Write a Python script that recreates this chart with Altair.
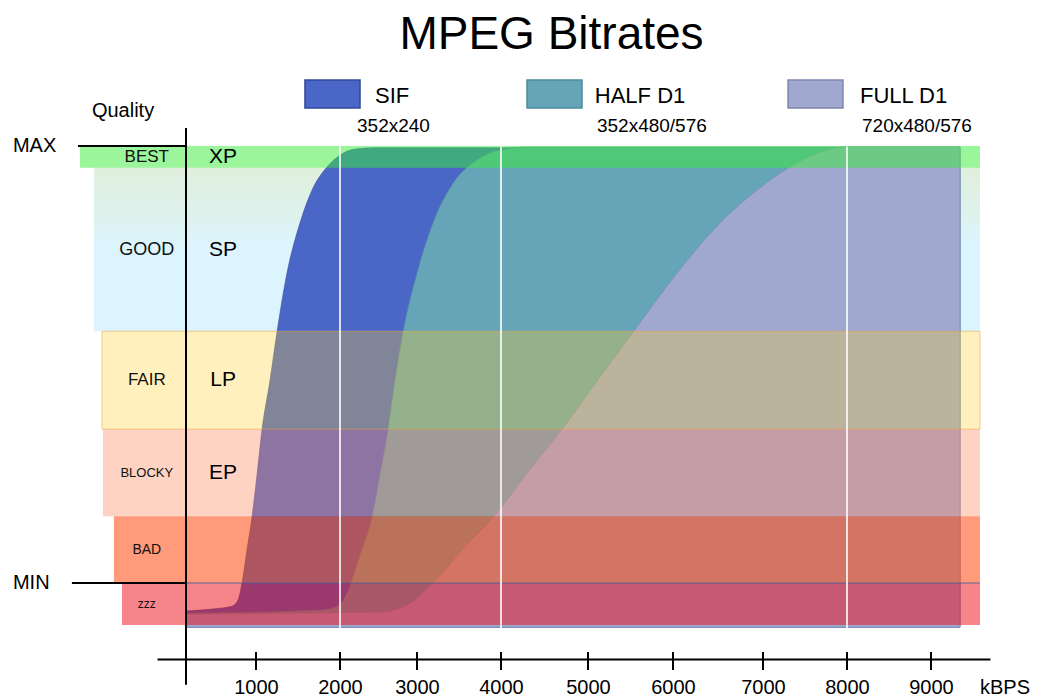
import altair as alt
import pandas as pd

# ---------------- data ----------------
formats = ["SIF", "HALF D1", "FULL D1"]
resolutions = ["352x240", "352x480/576", "720x480/576"]

sif_kbps = [0, 414, 657, 743, 800, 871, 943, 1012, 1071, 1167, 1250, 1369, 1524, 1667, 1845, 2000, 2195, 2455, 9344]
sif_quality = [-6.4, -5.9, -5.3, -3.9, 0.0, 7.6, 15.1, 24.7, 35.0, 46.4, 57.4, 70.9, 82.4, 89.9, 95.2, 97.9, 99.3, 99.6, 99.6]

half_kbps = [0, 1762, 1940, 2013, 2091, 2260, 2416, 2519, 2623, 2714, 2818, 3000, 3190, 3429, 3714, 3988, 4333, 9344]
half_quality = [-6.9, -6.2, -5.5, -4.6, -2.3, 6.4, 15.1, 24.7, 35.0, 46.4, 57.4, 70.9, 82.4, 91.5, 96.8, 99.1, 99.8, 99.8]

full_kbps = [0, 2519, 2753, 2909, 3036, 3190, 3536, 3908, 4310, 4713, 5115, 5529, 6044, 6522, 6933, 7321, 7679, 7976, 9344]
full_quality = [-7.1, -6.6, -5.9, -4.6, -2.7, 0.0, 7.6, 15.1, 25.4, 35.5, 46.4, 57.4, 70.9, 82.4, 89.9, 95.2, 98.6, 99.8, 99.8]

area_floor = -10.1

quality_bands = ["BEST", "GOOD", "FAIR", "BLOCKY", "BAD", "zzz"]
band_top = [100.0, 95.0, 57.6, 35.2, 15.3, 0.0]
band_bottom = [95.0, 57.6, 35.2, 15.3, 0.0, -9.6]
recording_modes = ["XP", "SP", "LP", "EP"]

quality_limits = ["MAX", "MIN"]
quality_limit_values = [100.0, 0.0]

x_ticks = [1000, 2000, 3000, 4000, 5000, 6000, 7000, 8000, 9000]
marker_kbps = [2000, 4000, 8000]

# ---------------- layout / style ----------------
FONT = "Liberation Sans"
x_domain = [-414, 0, 1000, 2000, 3000, 4000, 5000, 6000, 7000, 8000, 9000, 9700]
x_range = [0, 29, 99, 183, 260, 344, 431, 516, 606, 690, 774, 833]
y_domain = [-17.39, 104.12]

area_colors = ["#4a67c8", "#66a5b8", "#a0a8d0"]
area_edges = ["#34489a", "#4f8a9c", "#7f86b0"]

band_left = [-1514, -1314, -1200, -1186, -1029, -914]
band_right = 9581
band_fills = ["rgba(55,235,55,0.5)", "none", "rgba(255,205,40,0.3)",
              "rgba(255,140,100,0.38)", "rgba(255,73,13,0.55)", "rgba(235,11,21,0.5)"]
band_strokes = ["transparent", "transparent", "rgba(235,165,60,0.55)",
                "transparent", "transparent", "transparent"]
band_label_sizes = [17, 18, 17, 13, 14, 12]
band_label_x = -560
mode_label_x = 530
limit_line_left = [-1543, -1629]

legend_box_x = [1583, 4299, 7298]
legend_box_x2 = [2260, 4931, 7952]
legend_label_x = [2455, 5080, 8155]
legend_sub_x = [2221, 5105, 8179]

xscale = alt.Scale(domain=x_domain, range=x_range, nice=False, zero=False)
yscale = alt.Scale(domain=y_domain, nice=False, zero=False)
xaxis = alt.Axis(values=x_ticks, title=None, grid=False, ticks=False, tickSize=0,
                 domain=True, domainColor="black", domainWidth=2,
                 labelFont=FONT, labelFontSize=20, labelColor="black",
                 labelPadding=28, labelBaseline="middle", labelFlush=False,
                 labelOverlap=False, format="d")


def xenc(field):
    return alt.X(f"{field}:Q", scale=xscale, axis=xaxis)


def yenc(field):
    return alt.Y(f"{field}:Q", scale=yscale, axis=None)


# ---------------- tables ----------------
curves = pd.concat([
    pd.DataFrame({"format": "SIF", "kbps": sif_kbps, "quality": sif_quality}),
    pd.DataFrame({"format": "HALF D1", "kbps": half_kbps, "quality": half_quality}),
    pd.DataFrame({"format": "FULL D1", "kbps": full_kbps, "quality": full_quality}),
], ignore_index=True)
curves["floor"] = area_floor

bands = pd.DataFrame({
    "band": quality_bands, "top": band_top, "bottom": band_bottom,
    "left": band_left, "right": band_right,
    "fill": band_fills, "stroke": band_strokes, "fs": band_label_sizes,
})
bands["mid"] = (bands["top"] + bands["bottom"]) / 2
bands["label_x"] = band_label_x

modes = pd.DataFrame({"mode": recording_modes, "mid": bands["mid"][:4].values, "x": mode_label_x})

markers = pd.DataFrame({"kbps": marker_kbps, "top": 99.9, "bottom": -11.7})
ticks = pd.DataFrame({"kbps": x_ticks, "top": -15.8, "bottom": -19.9})
limits = pd.DataFrame({"limit": quality_limits, "q": quality_limit_values,
                       "left": limit_line_left, "right": 0, "text_x": -2471})
min_seam = pd.DataFrame({"left": [0], "right": [band_right], "q": [0.0]})
yaxis_line = pd.DataFrame({"kbps": [0], "top": [y_domain[1]], "bottom": [-23.3]})

legend = pd.DataFrame({
    "format": formats, "res": resolutions, "color": area_colors, "edge": area_edges,
    "x": legend_box_x, "x2": legend_box_x2, "lx": legend_label_x, "sx": legend_sub_x,
    "top": 115.1, "bottom": 108.7, "ly": 111.4, "sy": 104.6,
})

notes = pd.DataFrame({"text": ["Quality", "kBPS"], "x": [-1343, 9581], "y": [108.0, -24.0]})

# ---------------- layers ----------------
layers = []

# GOOD band sits behind the curves as a soft wash
layers.append(
    alt.Chart(bands).transform_filter(alt.datum.band == "GOOD")
    .mark_rect(fill=alt.LinearGradient(
        gradient="linear", x1=0, x2=0, y1=0, y2=1,
        stops=[alt.GradientStop(offset=0, color="#e0efdc"),
               alt.GradientStop(offset=0.3, color="#def2ee"),
               alt.GradientStop(offset=0.45, color="#dcf4fd"),
               alt.GradientStop(offset=1, color="#dcf4fd")]))
    .encode(x=xenc("left"), x2=alt.X2("right:Q"), y=yenc("top"), y2=alt.Y2("bottom:Q"))
)

for name, col, edge in zip(formats, area_colors, area_edges):
    layers.append(
        alt.Chart(curves).transform_filter(alt.datum.format == name)
        .mark_area(color=col, interpolate="monotone", stroke=edge,
                   strokeWidth=1, strokeOpacity=0.6)
        .encode(x=xenc("kbps"), y=yenc("quality"), y2=alt.Y2("floor:Q"))
    )

layers.append(
    alt.Chart(bands).transform_filter(alt.datum.band != "GOOD")
    .mark_rect(strokeWidth=1)
    .encode(x=xenc("left"), x2=alt.X2("right:Q"), y=yenc("top"), y2=alt.Y2("bottom:Q"),
            fill=alt.Fill("fill:N", scale=None), stroke=alt.Stroke("stroke:N", scale=None))
)
layers.append(
    alt.Chart(min_seam).mark_rule(color="#4f5f92", strokeWidth=1.5, opacity=0.6)
    .encode(x=xenc("left"), x2=alt.X2("right:Q"), y=yenc("q"))
)

layers.append(
    alt.Chart(markers).mark_rule(color="white", strokeWidth=2, opacity=0.8)
    .encode(x=xenc("kbps"), y=yenc("top"), y2=alt.Y2("bottom:Q"))
)
layers.append(
    alt.Chart(limits).mark_rule(color="black", strokeWidth=2)
    .encode(x=xenc("left"), x2=alt.X2("right:Q"), y=yenc("q"))
)
layers.append(
    alt.Chart(yaxis_line).mark_rule(color="black", strokeWidth=2)
    .encode(x=xenc("kbps"), y=yenc("top"), y2=alt.Y2("bottom:Q"))
)
layers.append(
    alt.Chart(ticks).mark_rule(color="black", strokeWidth=2)
    .encode(x=xenc("kbps"), y=yenc("top"), y2=alt.Y2("bottom:Q"))
)

layers.append(
    alt.Chart(bands).mark_text(font=FONT, align="center", baseline="middle", color="#111111")
    .encode(x=xenc("label_x"), y=yenc("mid"), text="band:N", size=alt.Size("fs:Q", scale=None))
)
layers.append(
    alt.Chart(modes).mark_text(font=FONT, fontSize=21, align="center", baseline="middle", color="black")
    .encode(x=xenc("x"), y=yenc("mid"), text="mode:N")
)
layers.append(
    alt.Chart(limits).mark_text(font=FONT, fontSize=20, align="left", baseline="middle", color="black")
    .encode(x=xenc("text_x"), y=yenc("q"), text="limit:N")
)
layers.append(
    alt.Chart(notes).mark_text(font=FONT, fontSize=20, align="left", baseline="middle", color="black")
    .encode(x=xenc("x"), y=yenc("y"), text="text:N")
)

layers.append(
    alt.Chart(legend).mark_rect(strokeWidth=1.5)
    .encode(x=xenc("x"), x2=alt.X2("x2:Q"), y=yenc("top"), y2=alt.Y2("bottom:Q"),
            fill=alt.Fill("color:N", scale=None), stroke=alt.Stroke("edge:N", scale=None))
)
layers.append(
    alt.Chart(legend).mark_text(font=FONT, fontSize=22, align="left", baseline="middle", color="black")
    .encode(x=xenc("lx"), y=yenc("ly"), text="format:N")
)
layers.append(
    alt.Chart(legend).mark_text(font=FONT, fontSize=19, align="left", baseline="middle", color="black")
    .encode(x=xenc("sx"), y=yenc("sy"), text="res:N")
)

chart = alt.layer(*layers).properties(
    width=833, height=531,
    padding={"left": 149, "top": 120, "right": 46, "bottom": 45},
    autosize=alt.AutoSizeParams(type="none"),
    title=alt.TitleParams("MPEG Bitrates", font=FONT, fontSize=46, fontWeight="normal",
                          color="black", frame="group", anchor="middle", offset=20, dx=-22),
).configure_view(strokeWidth=0)

chart.save("out.html", embed_options={"renderer": "svg", "actions": False})
